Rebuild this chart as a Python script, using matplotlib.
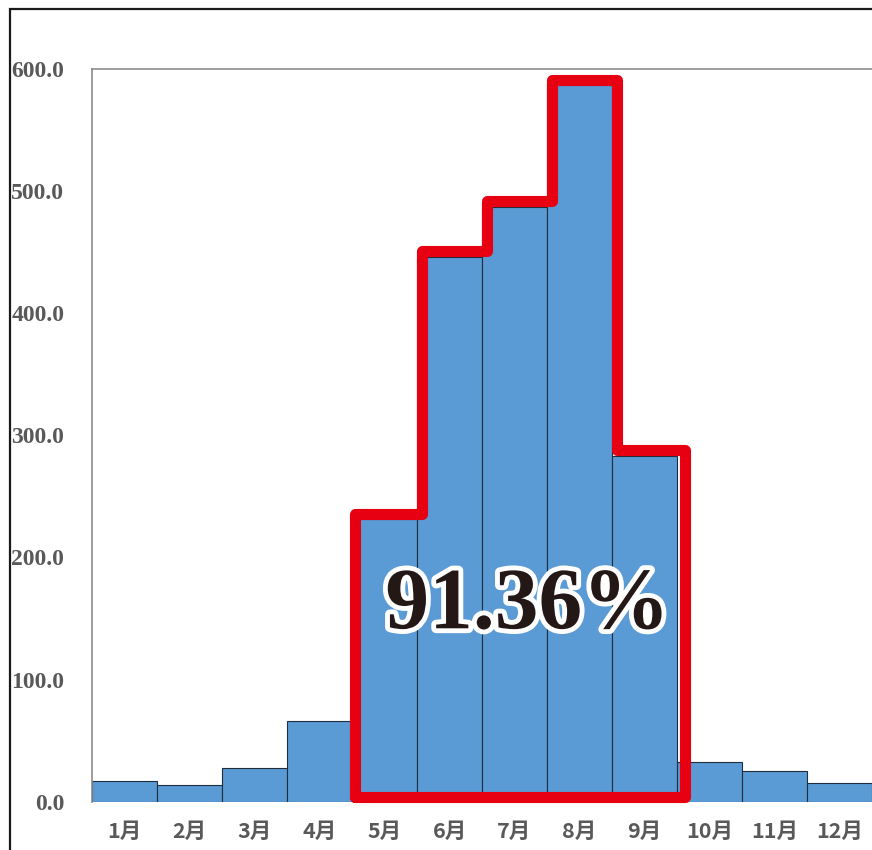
import matplotlib
matplotlib.use("Agg")
import matplotlib.pyplot as plt
import matplotlib.patheffects as pe
from matplotlib.patches import Rectangle

# Monthly values
months = ["1月", "2月", "3月", "4月", "5月", "6月", "7月", "8月", "9月", "10月", "11月", "12月"]
values = [17.2, 13.4, 27.3, 66.1, 231.5, 446.3, 487.2, 586.9, 283.1, 32.3, 24.9, 15.1]
yticks = [0, 100, 200, 300, 400, 500, 600]
share_label = "91.36%"
highlight = (4, 8)  # first and last index of the highlighted months (May–Sep)

W, H = 872, 850
fig = plt.figure(figsize=(W / 100, H / 100), dpi=100)
fig.patch.set_facecolor("white")

# outer frame (only left/top edges fall inside the canvas)
fig.patches.append(Rectangle((9.5 / W, -0.2), 1.5, (H - 9) / H + 0.2,
                             transform=fig.transFigure, fill=False,
                             edgecolor="#1a1a1a", linewidth=1.6))

ax = fig.add_axes([92 / W, 1 - 801.7 / H, (W - 92) / W, (801.7 - 69) / H])
x = list(range(len(months)))
ax.bar(x, values, width=1.0, color="#5B9BD5", edgecolor="#1f2d3d", linewidth=0.8, zorder=2)

ax.set_xlim(-0.5, len(months) - 0.5)
ax.set_ylim(0, 600)

for s in ["left", "top"]:
    ax.spines[s].set_color("#8c8c8c")
    ax.spines[s].set_linewidth(1.2)
for s in ["right", "bottom"]:
    ax.spines[s].set_visible(False)

ax.set_yticks(yticks)
ax.set_yticklabels([f"{v:.1f}" for v in yticks])
ax.set_xticks(x)
ax.set_xticklabels(months)
ax.tick_params(axis="y", length=0, pad=20)
ax.tick_params(axis="x", length=0, pad=14)
for lab in ax.get_yticklabels():
    lab.set_fontfamily("Liberation Serif")
    lab.set_fontweight("bold")
    lab.set_fontsize(17)
    lab.set_color("#595959")
for lab in ax.get_xticklabels():
    lab.set_fontfamily(["Noto Sans CJK SC", "DejaVu Sans"])
    lab.set_fontweight("bold")
    lab.set_fontsize(15.5)
    lab.set_color("#595959")

# red outline around the highlighted months
a, b = highlight
pad_y = 4.5      # value units above each bar top
step_dx = 0.07   # vertical steps sit slightly right of bar boundaries
base_y = 3.6
xs, ys = [a - 0.5 + 0.04], [base_y]
xs.append(a - 0.5 + 0.04); ys.append(values[a] + pad_y)
for i in range(a, b):
    xb = i + 0.5 + step_dx
    xs += [xb, xb]
    ys += [values[i] + pad_y, values[i + 1] + pad_y]
xr = b + 0.5 + 0.12
xs += [xr, xr, xs[0]]
ys += [values[b] + pad_y, base_y, base_y]
ax.plot(xs, ys, color="#E60012", linewidth=8, solid_joinstyle="round",
        solid_capstyle="round", zorder=4, clip_on=False)

ax.text(6.2, 142, share_label, ha="center", va="baseline",
        fontfamily="Liberation Serif", fontweight="bold", fontsize=63,
        color="#231815", zorder=5,
        path_effects=[pe.Stroke(linewidth=7, foreground="white"), pe.Normal()])

fig.savefig("out.png", dpi=100, facecolor="white")
